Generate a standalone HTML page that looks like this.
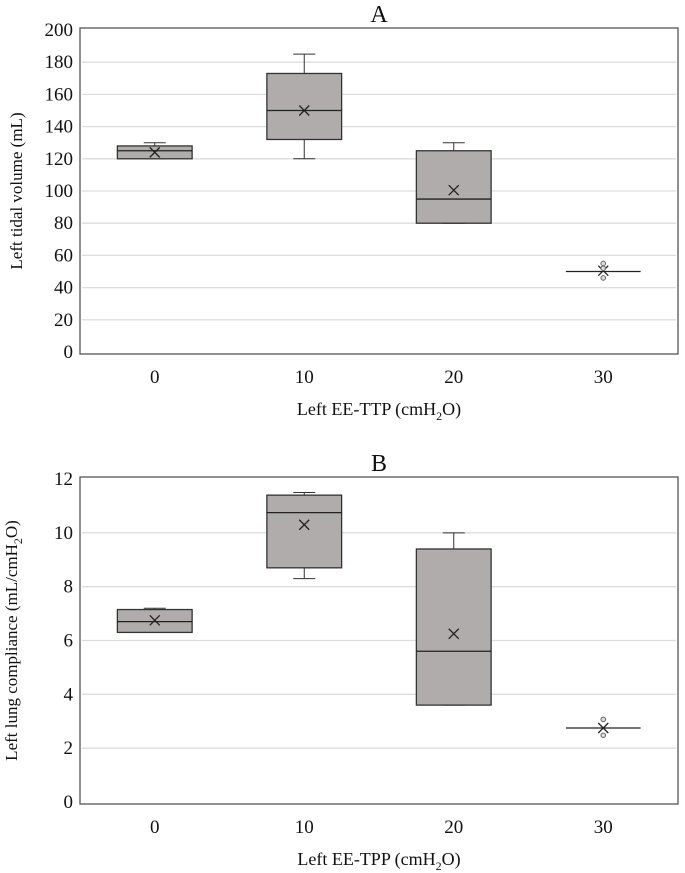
<!DOCTYPE html>
<html><head><meta charset="utf-8"><style>
body{margin:0;background:#fff;}
svg{display:block;}
svg text{font-family:"Liberation Serif","Times New Roman",serif;}
</style></head><body>
<svg id="s" width="685" height="873" font-family="Liberation Serif, serif"></svg>
<script>
const categories=["0","10","20","30"];
const aTicks=[0,20,40,60,80,100,120,140,160,180,200];
const aLow=[120,120,80,50];
const aQ1=[120,132,80,50];
const aMed=[125,150,95,50];
const aQ3=[128,173,125,50];
const aHigh=[130,185,130,50];
const aMean=[124,150,100.5,50.5];
const aOutliers=[[],[],[],[55,52,46]];
const bTicks=[0,2,4,6,8,10,12];
const bLow=[6.3,8.3,3.6,2.75];
const bQ1=[6.3,8.7,3.6,2.75];
const bMed=[6.7,10.75,5.6,2.75];
const bQ3=[7.15,11.4,9.4,2.75];
const bHigh=[7.2,11.5,10,2.75];
const bMean=[6.75,10.3,6.25,2.75];
const bOutliers=[[],[],[],[3.07,2.48]];
const NS="http://www.w3.org/2000/svg";
const svg=document.getElementById('s');
function mk(t,a,p){const e=document.createElementNS(NS,t);for(const k in a)e.setAttribute(k,a[k]);if(t==='text')e.setAttribute('font-family','Liberation Serif, serif');(p||svg).appendChild(e);return e;}
function chart(o){
 const g=mk('g',{});
 
 
 const L=80,R=678,T=o.top,B=o.bot,max=o.ticks[o.ticks.length-1];
 const y=v=>B-(v/max)*(B-T);
 const bw=(R-L)/categories.length;
 const x=i=>L+bw*(i+0.5);
 mk('rect',{x:L,y:T-2,width:R-L,height:B-T+4,fill:'#fff',stroke:'#555','stroke-width':1.3},g);
 o.ticks.forEach(t=>{
  if(t>0&&t<max){const l=mk('line',{x1:L+2,x2:R-2,y1:y(t),y2:y(t),stroke:'#ddd','stroke-width':1.3},g);
  }
  const tx=mk('text',{x:L-7,y:y(t)+6,'text-anchor':'end','font-size':19,fill:'#111'},g);tx.textContent=t;
  
 });
 categories.forEach((c,i)=>{
  const cx=x(i),hw=bw*0.25;
  const box=mk('g',{},g);
  
  
  mk('line',{x1:cx,x2:cx,y1:y(o.high[i]),y2:y(o.q3[i]),stroke:'#333'},box);
  mk('line',{x1:cx,x2:cx,y1:y(o.low[i]),y2:y(o.q1[i]),stroke:'#333'},box);
  mk('line',{x1:cx-11,x2:cx+11,y1:y(o.high[i]),y2:y(o.high[i]),stroke:'#333'},box);
  mk('line',{x1:cx-11,x2:cx+11,y1:y(o.low[i]),y2:y(o.low[i]),stroke:'#333'},box);
  if(o.q3[i]>o.q1[i])mk('rect',{x:cx-hw,y:y(o.q3[i]),width:hw*2,height:y(o.q1[i])-y(o.q3[i]),fill:'#afacab',stroke:'#333','stroke-width':1.3},box);
  mk('line',{x1:cx-hw,x2:cx+hw,y1:y(o.med[i]),y2:y(o.med[i]),stroke:'#222','stroke-width':1.3},box);
  const m=y(o.mean[i]);
  mk('path',{d:`M${cx-5} ${m-5}L${cx+5} ${m+5}M${cx+5} ${m-5}L${cx-5} ${m+5}`,stroke:'#222','stroke-width':1.3},box);
  o.out[i].forEach(v=>{const c2=mk('circle',{cx:cx,cy:y(v),r:2.3,fill:'#ddd',stroke:'#666'},box);
   });
  const lb=mk('text',{x:cx,y:B+31,'text-anchor':'middle','font-size':19,fill:'#111'},g);lb.textContent=c;
  
 });
 const ti=mk('text',{x:379,y:T-8,'text-anchor':'middle','font-size':24,fill:'#111'},g);ti.textContent=o.title;
 
 const xt=mk('text',{x:379,y:B+63,'text-anchor':'middle','font-size':18,fill:'#111'},g);
 xt.innerHTML=o.xt+' (cmH<tspan font-size="12" dy="5">2</tspan><tspan dy="-5">O)</tspan>';
 
 const yt=mk('text',{x:0,y:0,'text-anchor':'middle','font-size':17,fill:'#111',transform:`translate(${o.ytx},${(T+B)/2}) rotate(-90)`},g);
 yt.innerHTML=o.yt;
 
}
chart({name:'chart-a',top:30,bot:352,ticks:aTicks,low:aLow,q1:aQ1,med:aMed,q3:aQ3,high:aHigh,mean:aMean,out:aOutliers,title:'A',xt:'Left EE-TTP',yt:'Left tidal volume (mL)',ytx:22});
chart({name:'chart-b',top:479,bot:802,ticks:bTicks,low:bLow,q1:bQ1,med:bMed,q3:bQ3,high:bHigh,mean:bMean,out:bOutliers,title:'B',xt:'Left EE-TPP',yt:'Left lung compliance (mL/cmH<tspan font-size="12" dy="5">2</tspan><tspan dy="-5">O)</tspan>',ytx:17});
</script>
</body></html>
